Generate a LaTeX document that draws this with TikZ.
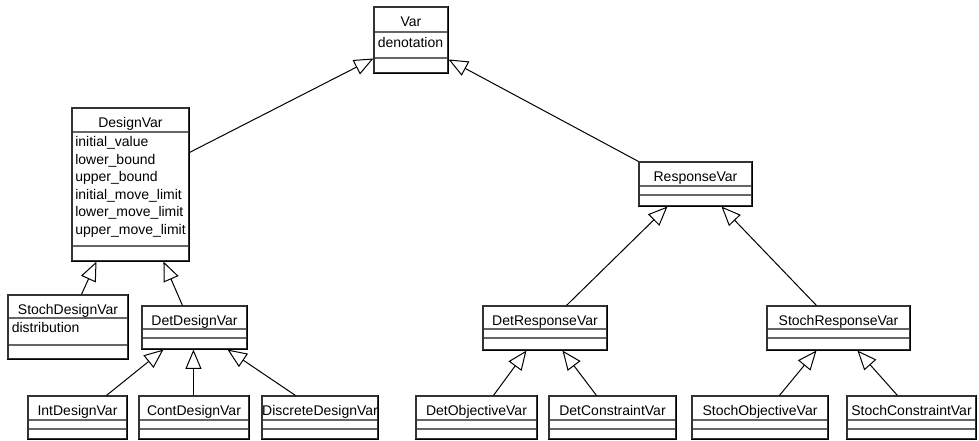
\documentclass[tikz,border=0pt]{standalone}
\usepackage{fontspec}
\setmainfont{Liberation Sans}
\usetikzlibrary{arrows.meta,calc,fit}

\tikzset{
  classframe/.style={draw=black!80, line width=0.8pt, inner sep=0pt},
  shadowedge/.style={draw=black, line width=1.4pt},
  compsep/.style={draw=black!60, line width=1.2pt},
  classtitle/.style={font=\fontsize{10.5}{12.5}\selectfont, inner sep=0pt, anchor=base},
  attr/.style={font=\fontsize{10.5}{12.5}\selectfont, inner sep=0pt, anchor=base west},
  inherits/.style={draw=black, line width=0.75pt,
    -{Triangle[open, length=14.5pt, width=12pt, line width=0.75pt]}},
}

% UML class box: name, left, top, right, bottom, first separator, second separator, title
\newcommand\umlclass[8]{%
  \coordinate (#1-nw) at (#2,#3);
  \coordinate (#1-se) at (#4,#5);
  \draw[compsep] (#2,#6) -- (#4,#6);
  \draw[compsep] (#2,#7) -- (#4,#7);
  \node[classframe, fit=(#1-nw)(#1-se)] (#1) {};
  \draw[shadowedge] (#1.north east) -- (#1.south east) -- (#1.south west);
  \node[classtitle] (#1-title) at ({(#2+#4)/2},{#3+19.5}) {#8};
}

\begin{document}
\begin{tikzpicture}[x=0.75pt, y=-0.75pt]
  \fill[white] (0,0) rectangle (979,441);
  \useasboundingbox (0,0) rectangle (979,441);

  % root
  \umlclass{var}{374}{7}{448}{73}{32}{58}{Var}
  \node[attr] (var-a1) at (377.5,48) {denotation};

  % design variables
  \umlclass{dv}{72}{108}{189}{261}{132}{246}{DesignVar}
  \foreach \txt [count=\i] in {initial\_value, lower\_bound, upper\_bound,
      initial\_move\_limit, lower\_move\_limit, upper\_move\_limit}
    \node[attr] (dv-a\i) at (75,{147+17.5*(\i-1)}) {\txt};

  \umlclass{sdv}{8}{295}{128}{359}{318}{345}{StochDesignVar}
  \node[attr] (sdv-a1) at (11.5,333) {distribution};

  \umlclass{ddv}{142}{306}{247}{349}{329}{338}{DetDesignVar}

  \umlclass{idv}{28}{396}{127}{439}{420}{429}{IntDesignVar}
  \umlclass{cdv}{139}{396}{249}{439}{420}{429}{ContDesignVar}
  \umlclass{xdv}{262}{396}{378}{439}{420}{429}{DiscreteDesignVar}

  % response variables
  \umlclass{rv}{639}{162}{752}{206}{186}{195}{ResponseVar}
  \umlclass{drv}{483}{306}{607}{350}{329}{338}{DetResponseVar}
  \umlclass{srv}{767}{306}{910}{350}{329}{338}{StochResponseVar}

  \umlclass{dov}{416}{396}{537}{439}{420}{429}{DetObjectiveVar}
  \umlclass{dcv}{549}{396}{676}{439}{420}{429}{DetConstraintVar}
  \umlclass{sov}{692}{396}{828}{439}{420}{429}{StochObjectiveVar}
  \umlclass{scv}{847}{396}{976}{439}{420}{429}{StochConstraintVar}

  % generalizations
  \draw[inherits] ($(dv.north east)+(0,45)$) -- ($(var.north west)+(0,52)$);
  \draw[inherits] (rv.north west) -- ($(var.north east)+(0,53)$);

  \draw[inherits] ($(sdv.north west)+(74,0)$) -- ($(dv.south west)+(25,0)$);
  \draw[inherits] ($(ddv.north west)+(41,0)$) -- ($(dv.south west)+(92,0)$);

  \draw[inherits] ($(idv.north west)+(79,0)$) -- ($(ddv.south west)+(22,0)$);
  \draw[inherits] ($(cdv.north west)+(55,0)$) -- ($(ddv.south west)+(52,0)$);
  \draw[inherits] ($(xdv.north west)+(34,0)$) -- ($(ddv.south west)+(86,0)$);

  \draw[inherits] ($(drv.north west)+(84,0)$) -- ($(rv.south west)+(29,0)$);
  \draw[inherits] ($(srv.north west)+(50,0)$) -- ($(rv.south west)+(83,0)$);

  \draw[inherits] ($(dov.north west)+(78,0)$) -- ($(drv.south west)+(44,0)$);
  \draw[inherits] ($(dcv.north west)+(48,0)$) -- ($(drv.south west)+(80,0)$);
  \draw[inherits] ($(sov.north west)+(88,0)$) -- ($(srv.south west)+(50,0)$);
  \draw[inherits] ($(scv.north west)+(51,0)$) -- ($(srv.south west)+(91,0)$);
\end{tikzpicture}
\end{document}
